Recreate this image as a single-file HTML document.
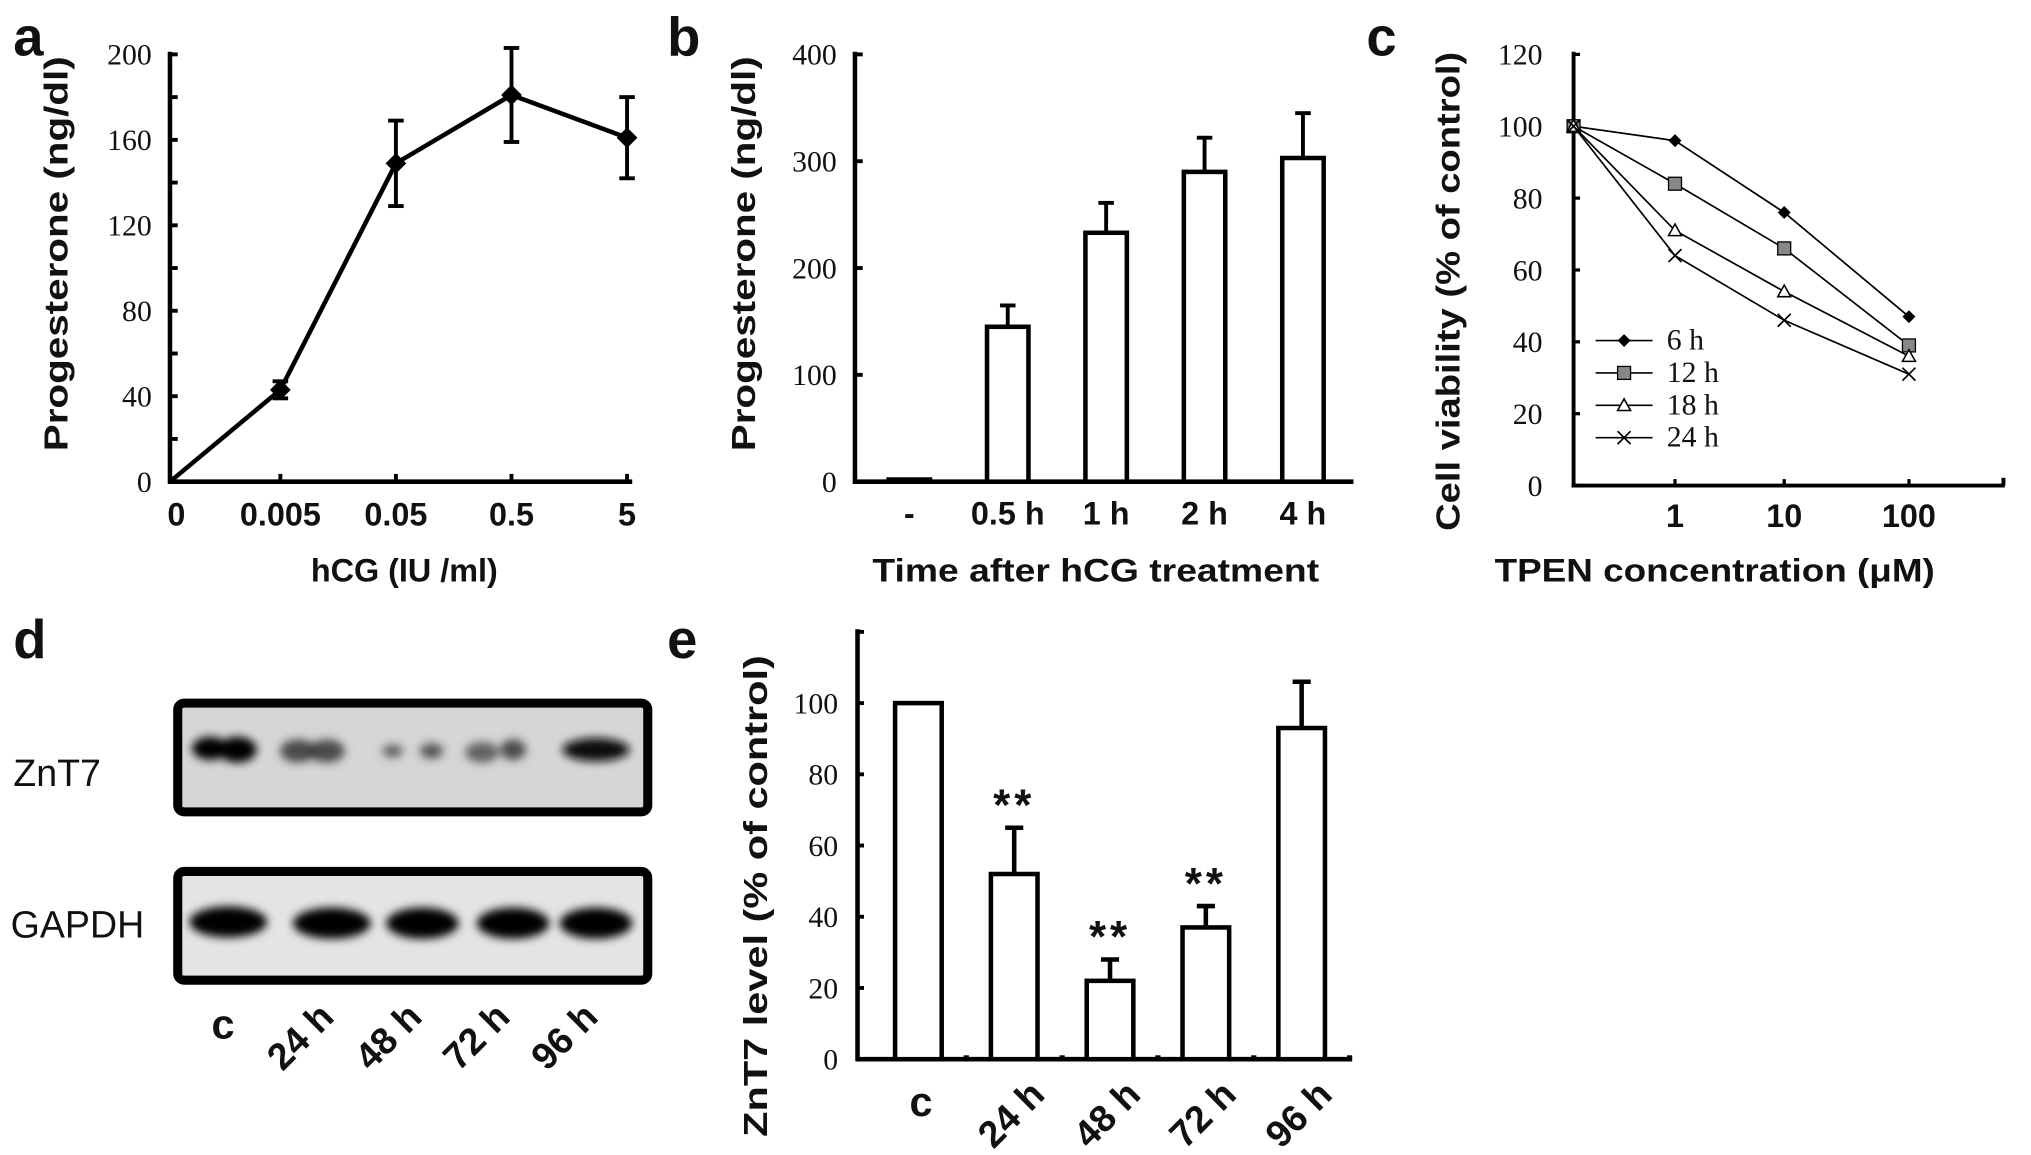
<!DOCTYPE html>
<html><head><meta charset="utf-8">
<style>
html,body{margin:0;padding:0;background:#fff;}
svg{display:block;}
.tn{font-family:"Liberation Serif",serif;font-size:23px;fill:#111;}
.ab{font-family:"Liberation Sans",sans-serif;font-weight:bold;font-size:25px;fill:#111;}
.yt{font-family:"Liberation Sans",sans-serif;font-weight:bold;font-size:26px;fill:#111;}
.lt{font-family:"Liberation Sans",sans-serif;font-weight:bold;font-size:42px;fill:#111;}
.ln{font-family:"Liberation Sans",sans-serif;font-size:29px;fill:#111;}
</style></head>
<body>
<svg id="fig" width="2031" height="1155" viewBox="0 0 1568 892" xmlns="http://www.w3.org/2000/svg">
<defs>
<filter id="blur" x="-30%" y="-60%" width="160%" height="220%"><feGaussianBlur stdDeviation="3.5"/></filter>
</defs>
<g id="blot">
<rect x="137" y="543" width="363" height="84" rx="5" fill="#d6d6d6" stroke="#000" stroke-width="7"/>
<rect x="137" y="673" width="363" height="84" rx="5" fill="#e4e4e4" stroke="#000" stroke-width="7"/>
<g filter="url(#blur)">
<ellipse cx="162" cy="578" rx="14" ry="9" fill="#000"/>
<ellipse cx="183" cy="579" rx="15" ry="10" fill="#000"/>
<ellipse cx="230" cy="580" rx="14" ry="9" fill="#333" opacity="0.85"/>
<ellipse cx="252" cy="580" rx="14" ry="9" fill="#333" opacity="0.85"/>
<ellipse cx="303" cy="580" rx="8" ry="5" fill="#444" opacity="0.8"/>
<ellipse cx="333" cy="580" rx="9" ry="6" fill="#333" opacity="0.8"/>
<ellipse cx="372" cy="581" rx="13" ry="8" fill="#444" opacity="0.8"/>
<ellipse cx="396" cy="579" rx="10" ry="8" fill="#333" opacity="0.85"/>
<ellipse cx="460" cy="579" rx="26" ry="9" fill="#111"/>
<ellipse cx="176" cy="712" rx="30" ry="12" fill="#000"/>
<ellipse cx="256" cy="713" rx="30" ry="12" fill="#000"/>
<ellipse cx="326" cy="713" rx="28" ry="12" fill="#000"/>
<ellipse cx="396" cy="713" rx="28" ry="12" fill="#000"/>
<ellipse cx="460" cy="713" rx="28" ry="12" fill="#000"/>
</g>
<text class="ln" x="10" y="607">ZnT7</text>
<text class="ln" x="8" y="724">GAPDH</text>
</g>
</svg>
<script>
// Panel a data
const aCats = ["0","0.005","0.05","0.5","5"];
const aVals = [0, 43, 149, 181, 161];
const aErrs = [0, 4, 20, 22, 19];
const aTicks = [0,40,80,120,160,200];
// Panel b data
const bCats = ["-","0.5 h","1 h","2 h","4 h"];
const bVals = [2, 145, 233, 290, 303];
const bErrs = [0, 20, 28, 32, 42];
const bTicks = [0,100,200,300,400];
// Panel c data
const cCats = ["","1","10","100"];
const cSeriesNames = ["6 h","12 h","18 h","24 h"];
const c6h = [100, 96, 76, 47];
const c12h = [100, 84, 66, 39];
const c18h = [100, 71, 54, 36];
const c24h = [100, 64, 46, 31];
const cTicks = [0,20,40,60,80,100,120];
// Panel d lanes
const dLanes = ["c","24 h","48 h","72 h","96 h"];
// Panel e data
const eCats = ["c","24 h","48 h","72 h","96 h"];
const eVals = [100, 52, 22, 37, 93];
const eErrs = [0, 13, 6, 6, 13];
const eSig = ["", "**", "**", "**", ""];
const eTicks = [0,20,40,60,80,100];

const svg = document.getElementById('fig');
const NS = "http://www.w3.org/2000/svg";
function mk(tag, attrs, parent){ const e=document.createElementNS(NS,tag); for(const k in attrs) e.setAttribute(k,attrs[k]); (parent||svg).appendChild(e); return e; }
function txt(s, attrs, parent){ const e=mk('text',attrs,parent); e.textContent=s; return e; }
function line(x1,y1,x2,y2,w,parent){ return mk('line',{x1,y1,x2,y2,stroke:'#000','stroke-width':w||3},parent); }

// letters
[["a",10,43],["b",515,43],["c",1055,43],["d",10,508],["e",515,508]].forEach(l=>{
  const t=txt(l[0],{class:'lt',x:l[1],y:l[2]});
  
  
});

// ---------- Panel a ----------
{
  const g=mk('g',{});  
  const x0=131, y0=372, yTop=42, xEnd=488;
  const xs = i => x0 + i*(xEnd-x0)/(aCats.length-1) - (i?4:0);
  const ys = v => y0 - v/200*(y0-yTop);
  line(x0,yTop-2,x0,y0+1.5,3.5,g); line(x0-1.5,y0,xEnd,y0,3.5,g);
  for(let v=0; v<=200; v+=20){ line(x0,ys(v),x0+6,ys(v),3,g); }
  aTicks.forEach(v=>{ const t=txt(String(v),{class:'tn',x:x0-14,y:ys(v)+8,'text-anchor':'end'},g);   });
  aCats.forEach((c,i)=>{ if(i>0) line(xs(i),y0,xs(i),y0-6,3,g); const t=txt(c,{class:'ab',x:xs(i)+(i==0?5:0),y:406,'text-anchor':'middle'},g);   });
  const pts=aVals.map((v,i)=>xs(i)+','+ys(v)).join(' ');
  const pl=mk('polyline',{points:pts,fill:'none',stroke:'#000','stroke-width':3.5},g);
   
  aVals.forEach((v,i)=>{ if(i==0) return;
    const e=aErrs[i], x=xs(i);
    line(x,ys(v+e),x,ys(v-e),3,g); line(x-6,ys(v+e),x+6,ys(v+e),3,g); line(x-6,ys(v-e),x+6,ys(v-e),3,g);
    const m=mk('polygon',{points:`${x},${ys(v)-8} ${x+8},${ys(v)} ${x},${ys(v)+8} ${x-8},${ys(v)}`,fill:'#000'},g);
     
  });
  const yt=txt('Progesterone (ng/dl)',{class:'yt',transform:`translate(52,196) rotate(-90)`,'text-anchor':'middle',textLength:305,lengthAdjust:'spacingAndGlyphs'},g);
   
  const xt=txt('hCG (IU /ml)',{class:'ab',x:312,y:449,'text-anchor':'middle'},g);
   
}

// ---------- Panel b ----------
{
  const g=mk('g',{});  
  const x0=660, y0=372, yTop=42, xEnd=1045, bw=32;
  const xs = i => 702 + i*76;
  const ys = v => y0 - v/400*(y0-yTop);
  line(x0,yTop-2,x0,y0+1.5,3.5,g); line(x0-1.5,y0,xEnd,y0,3.5,g);
  bTicks.forEach(v=>{ line(x0,ys(v),x0+6,ys(v),3,g); const t=txt(String(v),{class:'tn',x:x0-14,y:ys(v)+8,'text-anchor':'end'},g);   });
  bVals.forEach((v,i)=>{
    const x=xs(i), e=bErrs[i];
    if(e>0){ line(x,ys(v),x,ys(v+e),3,g); line(x-6,ys(v+e),x+6,ys(v+e),3,g); }
    const r=mk('rect',{x:x-bw/2,y:ys(v),width:bw,height:y0-ys(v),fill:'#fff',stroke:'#000','stroke-width':3.5},g);
     
    const t=txt(bCats[i],{class:'ab',x:x,y:405,'text-anchor':'middle'},g);  
  });
  const yt=txt('Progesterone (ng/dl)',{class:'yt',transform:`translate(583,196) rotate(-90)`,'text-anchor':'middle',textLength:305,lengthAdjust:'spacingAndGlyphs'},g);
   
  const xt=txt('Time after hCG treatment',{class:'ab',x:846,y:449,'text-anchor':'middle',textLength:345,lengthAdjust:'spacingAndGlyphs'},g);
   
}

// ---------- Panel c ----------
{
  const g=mk('g',{});  
  const x0=1215, y0=375, yTop=42, xEnd=1548;
  const xs = i => x0 + i*(1474-x0)/3 + (i==2?-10:0) + (i==1?-8:0);
  const ys = v => y0 - v/120*(y0-yTop);
  line(x0,yTop-2,x0,y0+1.5,3,g); line(x0-1.5,y0,xEnd,y0,3,g);
  line(xEnd-1,y0,xEnd-1,y0-6,3,g);
  cTicks.forEach(v=>{ line(x0,ys(v),x0+5,ys(v),2.5,g); const t=txt(String(v),{class:'tn',x:x0-24,y:ys(v)+8,'text-anchor':'end'},g);   });
  cCats.forEach((c,i)=>{ if(i==0) return; line(xs(i),y0,xs(i),y0-5,2.5,g); const t=txt(c,{class:'ab',x:xs(i),y:407,'text-anchor':'middle'},g);   });
  const series=[c6h,c12h,c18h,c24h];
  function marker(k,x,y,par){
    let m;
    if(k==0) m=mk('polygon',{points:`${x},${y-5} ${x+5},${y} ${x},${y+5} ${x-5},${y}`,fill:'#000'},par);
    else if(k==1) m=mk('rect',{x:x-5,y:y-5,width:10,height:10,fill:'#888',stroke:'#000','stroke-width':1},par);
    else if(k==2) m=mk('polygon',{points:`${x},${y-5} ${x+5},${y+4} ${x-5},${y+4}`,fill:'#fff',stroke:'#000','stroke-width':1.2},par);
    else { m=mk('path',{d:`M${x-5},${y-5}L${x+5},${y+5}M${x+5},${y-5}L${x-5},${y+5}`,stroke:'#000','stroke-width':1.3,fill:'none'},par); }
    return m;
  }
  series.forEach((s,k)=>{
    const pl=mk('polyline',{points:s.map((v,i)=>xs(i)+','+ys(v)).join(' '),fill:'none',stroke:'#000','stroke-width':1.3},g);
    
    
    s.forEach((v,i)=>{ const m=marker(k,xs(i),ys(v),g);   });
    const ly=263+k*25;
    line(1232,ly,1276,ly,1.3,g); const lm=marker(k,1254,ly,g);  
    const lt=txt(cSeriesNames[k],{class:'tn',x:1287,y:ly+7},g);  
  });
  const yt=txt('Cell viability (% of control)',{class:'yt',transform:`translate(1127,225) rotate(-90)`,'text-anchor':'middle',textLength:370,lengthAdjust:'spacingAndGlyphs'},g);
   
  const xt=txt('TPEN concentration (μM)',{class:'ab',x:1324,y:449,'text-anchor':'middle',textLength:340,lengthAdjust:'spacingAndGlyphs'},g);
   
}

// ---------- Panel d lane labels ----------
{
  const g=document.getElementById('blot');
  const lx=[172,236,304,372,440];
  dLanes.forEach((l,i)=>{
    let t;
    if(i==0) t=txt(l,{class:'ab',x:lx[i],y:802,'text-anchor':'middle',style:'font-size:32px'},g);
    else t=txt(l,{class:'ab',transform:`translate(${lx[i]-18},828) rotate(-45)`,style:'font-size:29px'},g);
    
    
  });
}

// ---------- Panel e ----------
{
  const g=mk('g',{});  
  const x0=662, y0=818, yTop=488, xEnd=1044, bw=36;
  const xs = i => 709 + i*74;
  const ys = v => y0 - v/120*(y0-yTop);
  line(x0,yTop-2,x0,y0+1.5,3.5,g); line(x0-1.5,y0,xEnd,y0,3.5,g);
  line(x0,yTop,x0+5,yTop,3,g);
  eTicks.forEach(v=>{ line(x0,ys(v),x0+5,ys(v),3,g); const t=txt(String(v),{class:'tn',x:x0-15,y:ys(v)+8,'text-anchor':'end'},g);   });
  eVals.forEach((v,i)=>{
    const x=xs(i), e=eErrs[i];
    if(e>0){ line(x,ys(v),x,ys(v+e),3.5,g); line(x-7,ys(v+e),x+7,ys(v+e),3.5,g); }
    const r=mk('rect',{x:x-bw/2,y:ys(v),width:bw,height:y0-ys(v),fill:'#fff',stroke:'#000','stroke-width':3.5},g);
     
    line(x+37,y0,x+37,y0-3,4,g);
    if(eSig[i]){ const s=txt(eSig[i],{class:'ab',x:x,y:ys(v+e)-6,'text-anchor':'middle',style:'font-size:34px;letter-spacing:3px'},g);   }
    let t;
    if(i==0) t=txt(eCats[i],{class:'ab',x:x+2,y:862,'text-anchor':'middle',style:'font-size:32px'},g);
    else t=txt(eCats[i],{class:'ab',transform:`translate(${x-16},888) rotate(-45)`,style:'font-size:29px'},g);
     
  });
  const yt=txt('ZnT7 level (% of control)',{class:'yt',transform:`translate(592,692) rotate(-90)`,'text-anchor':'middle',textLength:372,lengthAdjust:'spacingAndGlyphs'},g);
   
}
</script>
</body></html>
